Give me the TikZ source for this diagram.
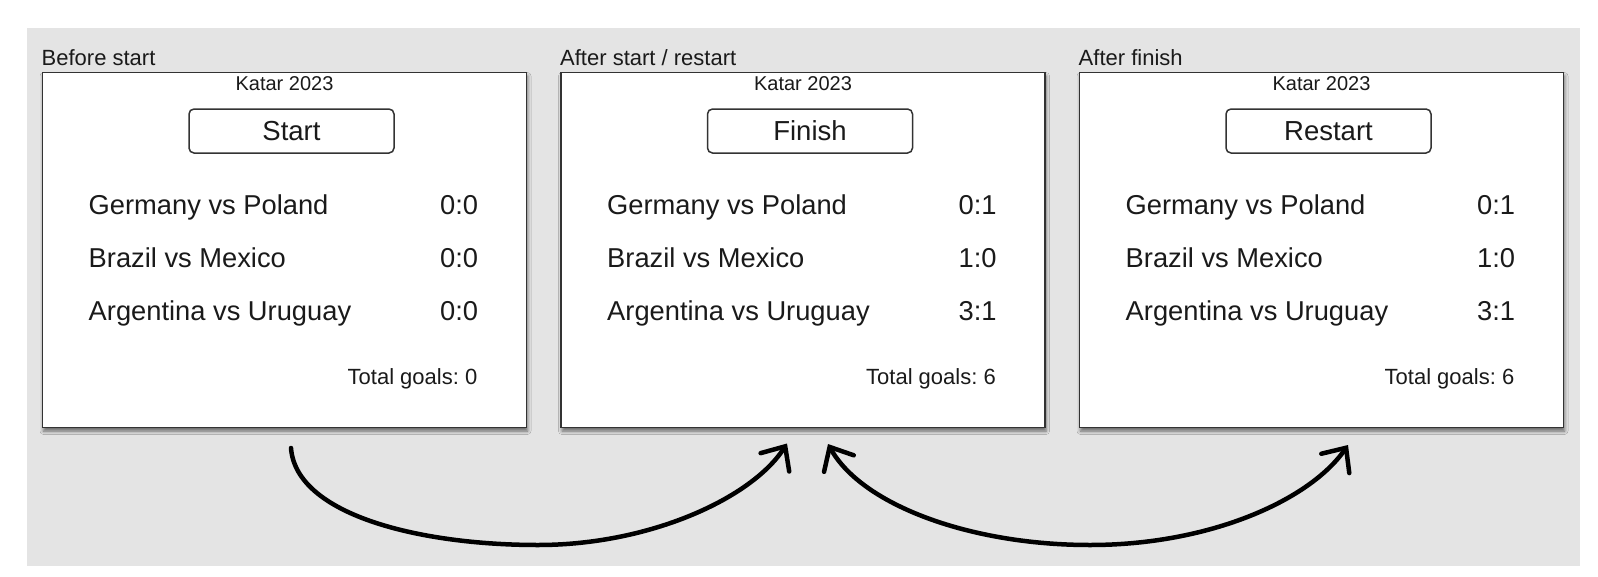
\documentclass[tikz,border=0pt]{standalone}
\usepackage{fontspec}
\setmainfont{Liberation Sans}
\usetikzlibrary{arrows.meta,shadows.blur,calc}
\frenchspacing
\definecolor{bggray}{HTML}{E4E4E4}
\definecolor{ink}{HTML}{1A1A1A}
\definecolor{edge}{HTML}{333333}
\newcommand\scorepanel[8]{%
  \node[panel] (#1) at (#2,72.5) {};
  \node[titletext] (#1t) at (#2-1,65) {#3};
  \node[katartext] (#1k) at (#2+242,90) {Katar 2023};
  \node[btn] (#1b) at (#2+249,131) {#4};
  \node[rowtext] (#1r1) at (#2+46,214) {Germany vs Poland};
  \node[rowtext] (#1r2) at (#2+46,267.3) {Brazil vs Mexico};
  \node[rowtext] (#1r3) at (#2+46,320.7) {Argentina vs Uruguay};
  \node[rowtext] (#1s1) at (#2+397.5,214) {#5};
  \node[rowtext] (#1s2) at (#2+397.5,267.3) {#6};
  \node[rowtext] (#1s3) at (#2+397.5,320.7) {#7};
  \node[totaltext] (#1g) at (#2+435,384.3) {Total goals: #8};
}
\begin{document}
\begin{tikzpicture}[x=1pt,y=-1pt,
  panel/.style={draw=edge, line width=1.9pt, fill=white, anchor=north west,
    minimum width=484pt, minimum height=355pt, inner sep=0pt, outer sep=0pt,
    blur shadow={shadow xshift=1pt, shadow yshift=-3.5pt, shadow blur radius=3.5pt, shadow opacity=55}},
  titletext/.style={anchor=base west, inner sep=0pt, text=ink, font=\fontsize{22}{26}\selectfont},
  katartext/.style={anchor=base, inner sep=0pt, text=ink, font=\fontsize{20}{24}\selectfont},
  btn/.style={draw=edge, line width=1.5pt, rounded corners=5pt, fill=white,
    minimum width=205pt, minimum height=44pt, inner sep=0pt, text=ink,
    font=\fontsize{27.5}{32}\selectfont},
  rowtext/.style={anchor=base west, inner sep=0pt, text=ink, font=\fontsize{27.3}{32}\selectfont},
  totaltext/.style={anchor=base east, inner sep=0pt, text=ink, font=\fontsize{22}{26}\selectfont},
  tipstyle/.style={},
  conn/.style={draw=black, line width=4.5pt, line cap=round,
    arrows={-Straight Barb[length=19pt,width=34pt,line cap=round]}},
  conn2/.style={draw=black, line width=4.5pt, line cap=round,
    arrows={Straight Barb[length=19pt,width=34pt,line cap=round]-Straight Barb[length=19pt,width=34pt,line cap=round]}}
]
\useasboundingbox (0,0) rectangle (1598,576);
\fill[white] (0,0) rectangle (1598,576);
\fill[bggray] (27,28) rectangle (1580,566);

\scorepanel{p1}{42.5}{Before start}{Start}{0:0}{0:0}{0:0}{0}
\scorepanel{p2}{561}{After start / restart}{Finish}{0:1}{1:0}{3:1}{6}
\scorepanel{p3}{1079.5}{After finish}{Restart}{0:1}{1:0}{3:1}{6}

\coordinate (a1s) at ([xshift=6.5pt,yshift=-20.5pt]p1.south);
\coordinate (a1e) at ([xshift=-16pt,yshift=-16pt]p2.south);
\coordinate (a2s) at ([xshift=25pt,yshift=-16.5pt]p2.south);
\coordinate (a2e) at ([xshift=26.5pt,yshift=-17.5pt]p3.south);
\coordinate (a1b) at (538,545);
\coordinate (a2b) at (1090,545);

\draw[conn] (a1s) .. controls +(5,67) and +(-118,0) .. (a1b)
  .. controls +(112,0) and +(-35,54.5) .. (a1e);
\draw[conn2] (a2s) .. controls +(34,61) and +(-120,0) .. (a2b)
  .. controls +(120,0) and +(-38,55) .. (a2e);
\end{tikzpicture}
\end{document}
